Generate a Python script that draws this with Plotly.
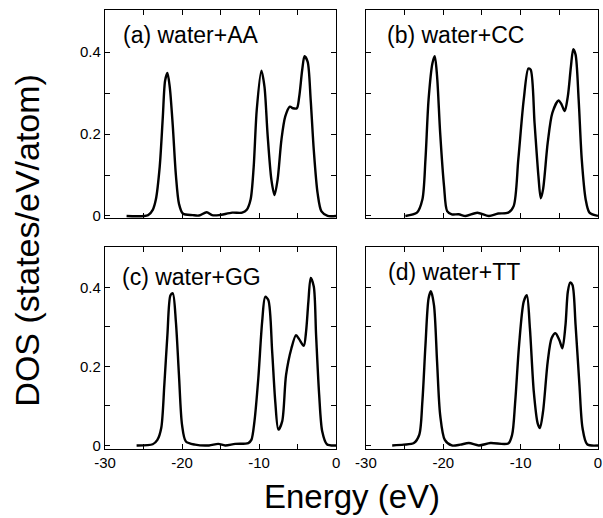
import plotly.graph_objects as go

# ---------------- data ----------------
panel_labels = ["(a) water+AA", "(b) water+CC", "(c) water+GG", "(d) water+TT"]

x_tickvals = [-30, -25, -20, -15, -10, -5, 0]
x_ticktext = ["-30", "", "-20", "", "-10", "", "0"]
y_tickvals = [0, 0.1, 0.2, 0.3, 0.4]
y_ticktext = ["0", "", "0.2", "", "0.4"]

e_aa = [-27.2, -24.4, -23.8, -23.4, -22.9, -22.5, -22.2, -21.9, -21.6, -21.2, -20.8, -20.4, -19.9,
        -18.6, -17.8, -16.8, -16.1, -15.2, -13.5, -12.2, -11.6, -11.1, -10.7, -10.3, -9.7, -9.3,
        -8.9, -8.4, -8.0, -7.6, -7.1, -6.6, -6.0, -5.6, -5.1, -4.8, -4.4, -4.1, -3.7, -3.3, -2.9,
        -2.4, -1.9, -1.1, 0.0]
dos_aa = [0.0, 0.002, 0.015, 0.04, 0.12, 0.24, 0.33, 0.349, 0.316, 0.22, 0.10, 0.03, 0.006,
          0.002, 0.001, 0.009, 0.002, 0.002, 0.008, 0.008, 0.015, 0.04, 0.12, 0.26, 0.355, 0.316,
          0.20, 0.088, 0.051, 0.088, 0.186, 0.243, 0.267, 0.263, 0.263, 0.29, 0.357, 0.39, 0.377,
          0.283, 0.161, 0.055, 0.011, 0.0, 0.0]

e_cc = [-24.9, -23.4, -22.7, -22.3, -21.9, -21.4, -21.1, -20.8, -20.4, -19.9, -19.5, -18.9, -18.0,
        -17.1, -15.6, -14.1, -12.9, -11.6, -10.9, -10.3, -9.6, -9.0, -8.7, -8.2, -7.7, -7.4, -7.1,
        -6.5, -5.9, -5.1, -4.7, -4.3, -3.9, -3.5, -3.2, -2.9, -2.5, -2.1, -1.6, -1.1, 0.0]
dos_cc = [0.0, 0.008, 0.04, 0.138, 0.284, 0.373, 0.39, 0.341, 0.203, 0.073, 0.012, 0.004, 0.004,
          0.0, 0.008, 0.0, 0.006, 0.008, 0.024, 0.138, 0.284, 0.36, 0.357, 0.227, 0.097, 0.043, 0.065,
          0.179, 0.252, 0.282, 0.272, 0.256, 0.292, 0.365, 0.407, 0.394, 0.284, 0.138, 0.041, 0.008, 0.0]

e_gg = [-25.9, -23.8, -23.2, -22.7, -22.3, -21.9, -21.5, -21.2, -20.8, -20.4, -20.0, -19.5, -18.3,
        -16.5, -15.3, -14.4, -13.1, -11.4, -11.0, -10.6, -10.1, -9.6, -9.2, -8.8, -8.3, -7.9, -7.5,
        -7.0, -6.5, -5.8, -5.2, -4.8, -4.2, -3.9, -3.6, -3.3, -2.9, -2.6, -2.2, -1.8, -1.2, 0.0]
dos_gg = [0.0, 0.003, 0.014, 0.044, 0.153, 0.279, 0.38, 0.385, 0.313, 0.178, 0.052, 0.01, 0.002,
          0.0, 0.004, 0.0, 0.004, 0.006, 0.014, 0.061, 0.17, 0.313, 0.376, 0.368, 0.237, 0.111, 0.04,
          0.061, 0.178, 0.246, 0.279, 0.269, 0.252, 0.288, 0.364, 0.424, 0.402, 0.279, 0.128, 0.035,
          0.003, 0.0]

e_tt = [-26.6, -25.1, -23.8, -23.1, -22.7, -22.3, -21.9, -21.6, -21.2, -20.8, -20.4, -19.8, -18.9,
        -17.8, -16.7, -15.4, -13.9, -11.6, -11.1, -10.7, -10.2, -9.6, -9.2, -8.8, -8.3, -7.8, -7.5,
        -7.1, -6.5, -6.0, -5.5, -5.0, -4.6, -4.2, -3.9, -3.6, -3.3, -2.9, -2.4, -2.0, -1.4, 0.0]
dos_tt = [0.0, 0.002, 0.006, 0.027, 0.111, 0.254, 0.372, 0.39, 0.355, 0.212, 0.077, 0.014, 0.0,
          0.002, 0.006, 0.0, 0.006, 0.005, 0.027, 0.111, 0.254, 0.364, 0.38, 0.296, 0.136, 0.056, 0.044,
          0.086, 0.212, 0.271, 0.284, 0.267, 0.246, 0.305, 0.389, 0.412, 0.406, 0.305, 0.153, 0.044,
          0.003, 0.0]

energies = [e_aa, e_cc, e_gg, e_tt]
doses = [dos_aa, dos_cc, dos_gg, dos_tt]

# ---------------- layout geometry ----------------
FONT = "Liberation Sans, Arial, Helvetica, sans-serif"
x_domains = [[0.0, 0.4688], [0.5292, 1.0], [0.0, 0.4688], [0.5292, 1.0]]
y_domains = [[0.5262, 1.0], [0.5262, 1.0], [0.0, 0.4601], [0.0, 0.4601]]
y_ranges = [[-0.005, 0.503], [-0.005, 0.503], [-0.009, 0.502], [-0.009, 0.502]]

fig = go.Figure()
fig.update_layout(
    width=603, height=518,
    margin=dict(l=105, r=1, t=10, b=69),
    paper_bgcolor="white", plot_bgcolor="white",
    showlegend=False,
    font=dict(family=FONT, color="black", size=15),
)

for i in range(4):
    suffix = "" if i == 0 else str(i + 1)
    xa = "x" + suffix
    ya = "y" + suffix
    fig.add_trace(go.Scatter(
        x=energies[i], y=doses[i], mode="lines",
        line=dict(color="black", width=2.4, shape="spline", smoothing=0.8),
        xaxis=xa, yaxis=ya, hoverinfo="skip",
    ))
    fig.update_layout({
        "xaxis" + suffix: dict(
            domain=x_domains[i], range=[-30, 0], anchor=ya,
            tickmode="array", tickvals=x_tickvals, ticktext=x_ticktext,
            showticklabels=(i >= 2)),
        "yaxis" + suffix: dict(
            domain=y_domains[i], range=y_ranges[i], anchor=xa,
            tickmode="array", tickvals=y_tickvals, ticktext=y_ticktext,
            showticklabels=(i % 2 == 0)),
    })

axis_style = dict(showline=True, linecolor="black", linewidth=1.4, mirror="ticks",
                  ticks="inside", ticklen=5, tickwidth=1.3, tickcolor="black",
                  showgrid=False, zeroline=False,
                  tickfont=dict(family=FONT, size=15, color="black"))
fig.update_xaxes(**axis_style)
fig.update_yaxes(**axis_style)

label_offsets = [(16, 25), (19, 25), (15, 30), (20, 25)]
panel_px_w = 233.0
panel_px_h = [208.0, 208.0, 202.0, 202.0]
for i in range(4):
    suffix = "" if i == 0 else str(i + 1)
    dx, dy = label_offsets[i]
    fig.add_annotation(
        text=panel_labels[i], xref="x" + suffix + " domain", yref="y" + suffix + " domain",
        x=dx / panel_px_w, y=1 - dy / panel_px_h[i], xanchor="left", yanchor="middle",
        showarrow=False, font=dict(family=FONT, size=23, color="black"),
    )

fig.add_annotation(
    text="DOS (states/eV/atom)", xref="paper", yref="paper",
    x=(26 - 105) / 497.0, y=(449 - 240) / 439.0, textangle=-90,
    xanchor="center", yanchor="middle", showarrow=False,
    font=dict(family=FONT, size=34, color="black"),
)
fig.add_annotation(
    text="Energy (eV)", xref="paper", yref="paper",
    x=(354 - 105) / 497.0, y=(449 - 497) / 439.0,
    xanchor="center", yanchor="middle", showarrow=False,
    font=dict(family=FONT, size=33, color="black"),
)

fig.write_html(
    "out.html",
    config={"displayModeBar": False},
    post_script="document.body.style.margin='0';document.body.style.padding='0';"
                "document.body.style.overflow='hidden';",
)
